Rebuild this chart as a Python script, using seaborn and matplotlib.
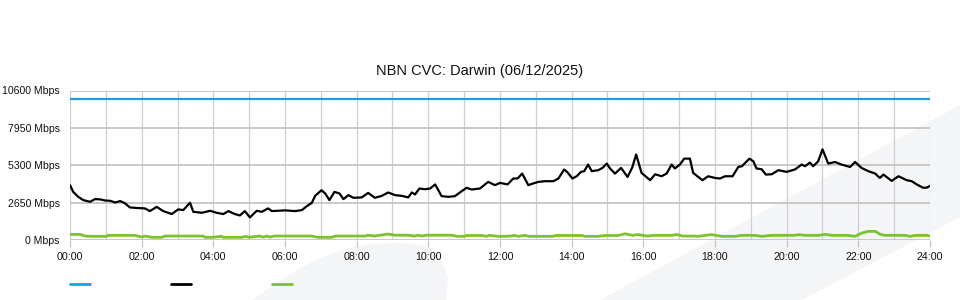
import matplotlib
matplotlib.use("Agg")
import matplotlib.pyplot as plt
from matplotlib.lines import Line2D
from matplotlib.patches import Polygon
from matplotlib.ticker import MultipleLocator
import seaborn as sns
import pandas as pd

# ---------------- data ----------------
title = "NBN CVC: Darwin (06/12/2025)"
y_ticks = [0, 2650, 5300, 7950, 10600]
x_ticks = [0, 2, 4, 6, 8, 10, 12, 14, 16, 18, 20, 22, 24]

capacity_hours = [0, 24]
capacity_mbps = [10000, 10000]

download_hours = [
    0.00, 0.09, 0.23, 0.37, 0.56, 0.70, 0.84, 0.98, 1.12, 1.26,
    1.40, 1.53, 1.67, 1.81, 2.09, 2.23, 2.42, 2.60, 2.84, 3.02,
    3.16, 3.35, 3.44, 3.68, 3.91, 4.09, 4.28, 4.42, 4.60, 4.74,
    4.88, 5.02, 5.21, 5.35, 5.53, 5.63, 6.00, 6.28, 6.47, 6.61,
    6.75, 6.84, 7.02, 7.12, 7.24, 7.38, 7.52, 7.63, 7.77, 7.91,
    8.14, 8.32, 8.51, 8.70, 8.88, 9.07, 9.26, 9.44, 9.54, 9.63,
    9.75, 9.91, 10.05, 10.19, 10.37, 10.56, 10.74, 10.93, 11.07, 11.21,
    11.44, 11.67, 11.86, 12.00, 12.21, 12.37, 12.49, 12.62, 12.79, 12.93,
    13.07, 13.26, 13.49, 13.63, 13.79, 13.89, 14.02, 14.14, 14.26, 14.35,
    14.46, 14.56, 14.74, 14.86, 14.98, 15.07, 15.21, 15.38, 15.56, 15.69,
    15.80, 15.95, 16.19, 16.33, 16.51, 16.65, 16.79, 16.88, 17.02, 17.14,
    17.30, 17.39, 17.65, 17.81, 18.00, 18.14, 18.28, 18.49, 18.65, 18.75,
    18.96, 19.07, 19.16, 19.30, 19.42, 19.58, 19.77, 20.00, 20.23, 20.42,
    20.51, 20.65, 20.74, 20.88, 21.00, 21.16, 21.35, 21.53, 21.77, 21.91,
    22.09, 22.28, 22.47, 22.60, 22.70, 22.93, 23.12, 23.35, 23.49, 23.63,
    23.81, 23.92, 24.00,
]
download_mbps = [
    3890, 3410, 3060, 2830, 2710, 2900, 2880, 2800, 2780, 2660,
    2760, 2610, 2310, 2280, 2240, 2050, 2350, 2050, 1840, 2170,
    2120, 2640, 2000, 1930, 2070, 1930, 1840, 2050, 1840, 1740,
    2050, 1600, 2070, 2000, 2240, 2050, 2100, 2050, 2120, 2400,
    2640, 3130, 3530, 3300, 2830, 3410, 3300, 2900, 3180, 2990,
    3020, 3340, 2990, 3130, 3370, 3180, 3130, 3020, 3370, 3230,
    3650, 3600, 3650, 3940, 3110, 3060, 3110, 3460, 3700, 3580,
    3650, 4120, 3890, 4050, 3940, 4360, 4360, 4710, 3890, 4010,
    4120, 4170, 4170, 4360, 5000, 4780, 4360, 4520, 4830, 4880,
    5350, 4880, 4950, 5110, 5420, 5070, 4710, 5110, 4470, 5140,
    6060, 4760, 4240, 4660, 4520, 4710, 5350, 5070, 5350, 5770,
    5770, 4760, 4240, 4520, 4400, 4360, 4520, 4520, 5180, 5230,
    5770, 5580, 5070, 5020, 4640, 4660, 4950, 4830, 5000, 5350,
    5230, 5490, 5230, 5580, 6430, 5420, 5530, 5350, 5180, 5530,
    5110, 4880, 4710, 4400, 4640, 4190, 4520, 4240, 4170, 3940,
    3700, 3720, 3840,
]

upload_hours = [
    0.00, 0.28, 0.42, 0.61, 1.03, 1.06, 1.81, 2.00, 2.09, 2.29,
    2.57, 2.65, 3.72, 3.77, 3.98, 4.23, 4.27, 4.80, 4.90, 5.00,
    5.28, 5.40, 5.49, 5.58, 5.70, 6.06, 6.75, 6.92, 7.31, 7.40,
    8.24, 8.31, 8.50, 8.87, 9.07, 9.44, 9.61, 9.71, 9.81, 9.94,
    10.00, 10.66, 10.80, 10.97, 11.10, 11.50, 11.60, 11.70, 11.94, 12.14,
    12.30, 12.40, 12.50, 12.70, 12.80, 13.45, 13.59, 13.73, 14.29, 14.37,
    14.73, 14.93, 15.30, 15.49, 15.70, 15.85, 16.10, 16.30, 16.80, 16.93,
    17.10, 17.40, 17.55, 17.72, 17.90, 18.20, 18.56, 18.75, 19.10, 19.30,
    19.60, 20.20, 20.35, 20.50, 20.90, 21.07, 21.27, 21.70, 21.90, 22.10,
    22.27, 22.47, 22.60, 22.74, 23.30, 23.44, 23.60, 23.90, 24.00,
]
upload_mbps = [
    400, 400, 280, 260, 260, 330, 330, 210, 280, 190,
    190, 280, 280, 190, 190, 260, 190, 190, 260, 190,
    280, 210, 280, 210, 280, 280, 280, 190, 190, 280,
    280, 340, 280, 420, 340, 340, 280, 340, 280, 340,
    340, 340, 260, 260, 320, 320, 260, 330, 260, 260,
    280, 330, 260, 330, 260, 260, 330, 320, 320, 260,
    260, 320, 320, 440, 330, 390, 280, 330, 330, 390,
    280, 280, 260, 330, 380, 260, 260, 330, 330, 260,
    330, 330, 380, 330, 330, 400, 330, 330, 260, 490,
    610, 610, 420, 330, 330, 260, 330, 330, 280,
]

series_names = ["Capacity", "Download", "Upload"]
series_colors = ["#1ba1e2", "#000000", "#7cc22c"]
series_widths = [1.6, 1.6, 2.0]

# ---------------- build long table ----------------
frames = []
for name, hrs, vals in zip(series_names,
                           [capacity_hours, download_hours, upload_hours],
                           [capacity_mbps, download_mbps, upload_mbps]):
    frames.append(pd.DataFrame({"hour": hrs, "mbps": vals, "series": name}))
df = pd.concat(frames, ignore_index=True)

# ---------------- figure ----------------
sns.set_theme(style="white")
plt.rcParams["font.family"] = ["Liberation Sans", "DejaVu Sans"]

fig = plt.figure(figsize=(9.6, 3.0), dpi=100)
fig.patch.set_facecolor("white")

# faint watermark shapes in the background (pixel coords -> figure fraction)
def px(pts):
    return [(x / 960.0, 1 - y / 300.0) for x, y in pts]

wm = "#f4f5f7"
fig.patches.append(Polygon(px([(600, 300), (960, 105), (960, 217), (802, 300)]),
                           closed=True, transform=fig.transFigure,
                           facecolor=wm, edgecolor="none", zorder=-5))
fig.patches.append(Polygon(px([(253, 300), (280, 280), (310, 263), (340, 250),
                               (370, 244), (400, 243), (425, 246), (440, 255),
                               (448, 278), (446, 300)]),
                           closed=True, transform=fig.transFigure,
                           facecolor=wm, edgecolor="none", zorder=-5))

ax = fig.add_axes([70 / 960, 60 / 300, 860 / 960, 149.5 / 300])
ax.set_facecolor("none")
ax.set_zorder(2)

for name, col, lw in zip(series_names, series_colors, series_widths):
    sns.lineplot(data=df[df["series"] == name], x="hour", y="mbps",
                 color=col, linewidth=lw, ax=ax, legend=False, zorder=3)

ax.set_xlim(0, 24)
ax.set_ylim(0, 10600)
ax.set_xticks(x_ticks)
ax.xaxis.set_minor_locator(MultipleLocator(1))
ax.set_xticklabels([f"{h:02d}:00" for h in x_ticks])
ax.set_yticks(y_ticks)
ax.set_yticklabels([f"{v} Mbps" for v in y_ticks])
ax.set_xlabel("")
ax.set_ylabel("")

ax.grid(True, which="major", axis="y", color="#c4c4c4", linewidth=1.3)
ax.grid(True, which="both", axis="x", color="#cfcfcf", linewidth=0.9)
ax.set_axisbelow(True)
for s in ax.spines.values():
    s.set_visible(False)

ax.tick_params(axis="x", which="major", length=5, width=0.9, color="#c4c4c4",
               labelsize=7.7, pad=4, labelcolor="#111111", bottom=True)
ax.tick_params(axis="x", which="minor", length=0)
ax.tick_params(axis="y", length=0, labelsize=7.6, pad=7.5, labelcolor="#111111")

fig.text(480 / 960, 1 - 71 / 300, title, ha="center", va="center",
         fontsize=10.5, color="#111111")

handles = [Line2D([], [], color=c, linewidth=2.0) for c in series_colors]
leg = fig.legend(handles, ["", "", ""], loc="center left",
                 bbox_to_anchor=(70 / 960, 1 - 285 / 300), ncol=3, frameon=False,
                 handlelength=1.8, handletextpad=0.0, columnspacing=7.3,
                 borderpad=0.0, borderaxespad=0.0, fontsize=8)
leg.set_zorder(3)

fig.savefig("out.png", dpi=100, facecolor="white")
